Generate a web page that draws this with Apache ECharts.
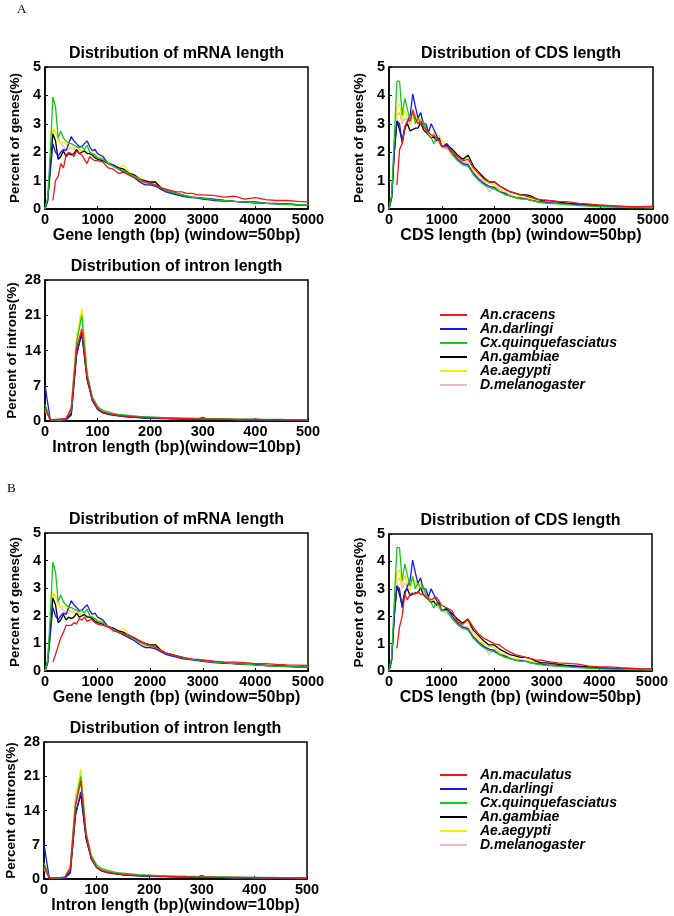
<!DOCTYPE html>
<html>
<head>
<meta charset="utf-8">
<script src="https://cdn.jsdelivr.net/npm/echarts@6/dist/echarts.min.js"></script>
<style>
  html, body { margin: 0; padding: 0; background: #fff; }
  #main { width: 674px; height: 916px; }
</style>
</head>
<body>
<div id="main"></div>
<script>
// bin positions (bp) for the mRNA / CDS panels
var geneX = [0,50,100,150,200,250,300,350,400,450,500,550,600,650,700,750,800,850,900,950,1000,
  1100,1200,1300,1400,1500,1600,1700,1800,1900,2000,2100,2200,2300,2400,2500,2600,2700,2800,2900,3000,
  3200,3400,3600,3800,4000,4200,4400,4600,4800,5000];
var intronX = [];
for (var k = 0; k <= 500; k += 10) intronX.push(k);

// mRNA length (%)
var mrnaDarlingi = [0,0.3,1.3,2.3,2.0,1.85,2.0,2.1,2.05,2.3,2.55,2.4,2.3,2.2,2.2,2.3,2.4,2.2,2.05,2.1,1.95,
  1.85,1.6,1.55,1.4,1.3,1.2,1.1,0.95,0.85,0.85,0.8,0.7,0.6,0.55,0.5,0.45,0.42,0.4,0.38,0.35,
  0.3,0.28,0.27,0.23,0.25,0.2,0.18,0.18,0.15,0.13];
var mrnaQuinque = [0,0.4,2.0,3.95,3.6,2.5,2.75,2.5,2.4,2.3,2.3,2.25,2.2,2.15,2.2,2.1,2.25,2.0,1.95,1.9,1.8,
  1.75,1.6,1.5,1.4,1.35,1.25,1.15,1.05,0.95,0.9,0.85,0.75,0.65,0.6,0.55,0.5,0.45,0.42,0.4,0.38,
  0.33,0.3,0.27,0.25,0.22,0.2,0.18,0.16,0.15,0.14];
var mrnaGambiae = [0,0.3,1.5,2.65,2.4,1.75,1.85,2.05,1.85,1.95,1.9,1.95,2.1,1.95,2.0,2.05,1.95,1.95,1.9,1.8,1.75,
  1.7,1.6,1.55,1.45,1.4,1.25,1.2,1.05,1.0,0.95,0.95,0.75,0.65,0.6,0.55,0.5,0.45,0.42,0.4,0.38,
  0.35,0.3,0.27,0.25,0.22,0.2,0.2,0.17,0.15,0.12];
var mrnaAegypti = [0,0.3,1.6,2.85,2.75,2.4,2.3,2.35,2.3,2.2,2.15,2.1,2.1,2.05,2.05,2.0,2.0,1.95,1.95,1.9,1.85,
  1.8,1.65,1.55,1.45,1.55,1.3,1.2,1.1,1.0,0.95,0.95,0.8,0.65,0.6,0.55,0.5,0.45,0.42,0.4,0.37,
  0.33,0.3,0.27,0.24,0.22,0.2,0.18,0.17,0.15,0.13];
var mrnaMelano = [0,0.3,1.5,2.8,2.7,2.5,2.3,2.2,2.1,2.1,2.15,2.15,2.2,2.1,2.05,2.0,2.0,1.95,1.9,1.85,1.8,
  1.75,1.65,1.5,1.4,1.35,1.25,1.15,1.0,0.9,0.85,0.9,0.7,0.6,0.55,0.55,0.5,0.45,0.42,0.4,0.37,
  0.33,0.3,0.28,0.25,0.23,0.2,0.18,0.17,0.15,0.13];
var mrnaCracens = [null,null,null,0.3,1.0,1.15,1.6,1.45,1.9,2.0,1.95,1.85,2.05,1.95,1.9,1.75,1.6,1.85,1.75,1.7,1.7,
  1.65,1.45,1.4,1.25,1.3,1.2,1.1,1.0,0.95,0.9,0.85,0.75,0.7,0.65,0.6,0.6,0.55,0.55,0.5,0.5,
  0.48,0.42,0.45,0.35,0.4,0.33,0.3,0.3,0.27,0.25];
var mrnaMaculatus = [null,null,null,0.33,0.6,0.9,1.2,1.4,1.65,1.65,1.65,1.75,1.7,1.9,1.85,1.95,1.8,1.85,1.85,1.75,1.7,
  1.65,1.6,1.45,1.4,1.35,1.3,1.2,1.1,1.0,0.95,0.85,0.75,0.65,0.6,0.55,0.5,0.47,0.43,0.42,0.4,
  0.36,0.33,0.32,0.3,0.27,0.27,0.24,0.22,0.21,0.2];

// CDS length (%)
var cdsDarlingi = [0,0.4,2.0,3.1,3.0,2.3,2.8,3.1,3.3,4.05,3.6,3.2,3.4,3.0,3.0,2.7,3.0,2.8,2.6,2.4,2.2,
  2.3,2.0,1.75,1.6,1.55,1.25,1.05,0.9,0.8,0.75,0.6,0.55,0.45,0.4,0.38,0.35,0.3,0.27,0.25,0.22,
  0.2,0.17,0.15,0.12,0.1,0.09,0.08,0.07,0.06,0.05];
var cdsQuinque = [0,0.5,2.5,4.5,4.5,3.3,3.9,3.5,3.1,3.45,3.0,3.2,3.0,3.1,2.8,2.6,2.5,2.3,2.5,2.4,2.2,
  2.2,1.9,1.7,1.55,1.5,1.2,1.0,0.85,0.75,0.7,0.6,0.5,0.45,0.4,0.35,0.35,0.3,0.25,0.22,0.2,
  0.18,0.15,0.12,0.1,0.08,0.07,0.06,0.05,0.05,0.05];
var cdsGambiae = [0,0.4,2.0,3.1,2.8,2.4,2.9,3.0,2.75,2.8,2.85,2.85,3.05,2.8,2.7,2.6,2.5,2.55,2.4,2.5,2.2,
  2.25,2.1,1.9,1.75,1.9,1.5,1.3,1.1,0.95,0.95,0.8,0.7,0.6,0.55,0.5,0.5,0.45,0.35,0.3,0.3,
  0.25,0.2,0.18,0.15,0.12,0.1,0.08,0.07,0.06,0.06];
var cdsAegypti = [0,0.4,2.2,3.6,3.7,3.1,3.5,3.2,2.95,3.3,3.3,3.1,3.2,2.9,2.9,2.6,2.5,2.7,2.6,2.6,2.4,
  2.25,2.05,1.85,1.75,1.8,1.4,1.2,1.0,0.9,0.85,0.7,0.6,0.5,0.45,0.42,0.4,0.35,0.3,0.27,0.25,
  0.22,0.18,0.15,0.13,0.1,0.09,0.08,0.07,0.06,0.05];
var cdsMelano = [0,0.4,2.0,3.3,3.4,3.0,3.2,3.1,3.1,3.3,3.1,3.15,3.2,3.0,2.8,2.7,2.6,2.5,2.4,2.3,2.2,
  2.1,1.95,1.8,1.65,1.6,1.3,1.1,0.95,0.6,0.8,0.65,0.55,0.48,0.42,0.4,0.37,0.32,0.28,0.25,0.22,
  0.2,0.17,0.14,0.12,0.1,0.09,0.08,0.07,0.06,0.05];
var cdsCracens = [null,null,null,0.85,2.1,2.3,2.9,3.1,3.1,3.5,3.2,3.0,3.1,2.9,2.8,2.7,2.6,2.6,2.5,2.4,2.2,
  2.2,2.0,1.85,1.7,1.75,1.45,1.25,1.05,0.95,0.95,0.8,0.7,0.6,0.55,0.5,0.45,0.4,0.35,0.32,0.3,
  0.27,0.25,0.2,0.17,0.14,0.12,0.1,0.08,0.08,0.1];
var cdsMaculatus = [null,null,null,0.83,1.6,2.0,2.8,2.6,2.8,2.85,2.8,2.9,2.8,2.8,2.7,2.65,2.6,2.65,2.7,2.55,2.4,
  2.3,2.2,1.8,1.7,1.9,1.6,1.35,1.2,1.1,1.0,0.95,0.8,0.7,0.6,0.55,0.5,0.45,0.4,0.4,0.35,
  0.3,0.28,0.25,0.18,0.15,0.15,0.12,0.1,0.08,0.08];

// intron length (%), window 10bp
var intDarlingi = [7.1,0.3,0.1,0.1,0.2,1.2,13.0,17.8,8.5,4.0,2.3,1.6,1.3,1.1,1.0,0.85,0.75,0.7,0.65,0.6,0.6,
  0.55,0.5,0.5,0.45,0.45,0.4,0.4,0.38,0.36,0.7,0.34,0.32,0.3,0.3,0.28,0.27,0.26,0.25,0.24,0.3,
  0.22,0.21,0.2,0.2,0.19,0.18,0.18,0.17,0.17,0.16];
var intQuinque = [3.3,0.3,0.2,0.2,0.4,2.3,15.5,21.0,9.5,4.8,2.9,2.1,1.8,1.5,1.3,1.2,1.1,1.0,0.9,0.85,0.8,
  0.75,0.7,0.68,0.65,0.62,0.6,0.57,0.55,0.52,0.5,0.48,0.46,0.45,0.43,0.42,0.4,0.39,0.38,0.37,0.35,
  0.34,0.33,0.32,0.31,0.3,0.29,0.28,0.27,0.26,0.25];
var intGambiae = [3.0,0.3,0.2,0.2,0.3,1.5,13.5,17.3,8.2,4.2,2.4,1.7,1.4,1.2,1.05,0.9,0.8,0.75,0.7,0.65,0.62,
  0.58,0.55,0.52,0.5,0.47,0.45,0.42,0.4,0.38,0.36,0.35,0.33,0.32,0.3,0.29,0.28,0.27,0.26,0.25,0.24,
  0.23,0.22,0.21,0.2,0.2,0.19,0.18,0.18,0.17,0.16];
var intAegypti = [2.5,0.3,0.2,0.2,0.4,2.5,16.5,22.5,9.5,4.5,2.6,1.9,1.55,1.3,1.15,1.0,0.9,0.82,0.75,0.7,0.66,
  0.62,0.58,0.55,0.52,0.5,0.47,0.45,0.43,0.41,0.4,0.38,0.36,0.35,0.34,0.32,0.31,0.3,0.29,0.28,0.27,
  0.26,0.25,0.24,0.23,0.22,0.21,0.2,0.2,0.19,0.18];
var intMelano = [2.0,0.3,0.3,0.3,0.5,3.0,16.8,22.0,9.0,4.3,2.5,1.8,1.5,1.25,1.1,0.95,0.85,0.8,0.72,0.68,0.64,
  0.6,0.56,0.53,0.5,0.48,0.45,0.43,0.41,0.39,0.38,0.36,0.35,0.33,0.32,0.31,0.3,0.29,0.28,0.27,0.26,
  0.25,0.24,0.23,0.22,0.21,0.2,0.2,0.19,0.18,0.17];
var intCracens = [2.5,0.2,0.3,0.4,0.5,2.5,14.5,18.3,8.8,4.3,2.5,1.8,1.5,1.25,1.1,1.0,0.9,0.8,0.75,0.7,0.66,
  0.62,0.58,0.55,0.52,0.5,0.48,0.46,0.44,0.42,0.4,0.39,0.38,0.37,0.36,0.35,0.34,0.33,0.32,0.31,0.35,
  0.3,0.29,0.28,0.27,0.26,0.25,0.24,0.23,0.22,0.21];
var intMaculatus = [2.5,0.2,0.2,0.3,0.4,2.2,15.0,20.0,9.0,4.2,2.4,1.75,1.45,1.2,1.05,0.95,0.85,0.78,0.72,0.68,0.64,
  0.6,0.56,0.53,0.5,0.48,0.46,0.44,0.42,0.4,0.38,0.37,0.36,0.35,0.34,0.33,0.32,0.31,0.3,0.29,0.28,
  0.27,0.26,0.25,0.24,0.23,0.22,0.21,0.2,0.2,0.19];

var colors = {
  red: '#f01818', blue: '#1818e8', green: '#18c818',
  black: '#000000', yellow: '#f0f000', pink: '#f5b5c0'
};
var namesA = ['An.cracens','An.darlingi','Cx.quinquefasciatus','An.gambiae','Ae.aegypti','D.melanogaster'];
var namesB = ['An.maculatus','An.darlingi','Cx.quinquefasciatus','An.gambiae','Ae.aegypti','D.melanogaster'];

var FONT = '"Liberation Sans", Arial, sans-serif';

var panels = [
  { l: 45,  t: 67,  w: 263, h: 142, kind: 'mrna',   title: 'Distribution of mRNA length', xname: 'Gene length (bp) (window=50bp)', red: 'A' },
  { l: 389, t: 67,  w: 264, h: 142, kind: 'cds',    title: 'Distribution of CDS length',  xname: 'CDS length (bp) (window=50bp)',  red: 'A' },
  { l: 45,  t: 280, w: 263, h: 141, kind: 'intron', title: 'Distribution of intron length', xname: 'Intron length (bp)(window=10bp)', red: 'A' },
  { l: 45,  t: 533, w: 263, h: 138, kind: 'mrna',   title: 'Distribution of mRNA length', xname: 'Gene length (bp) (window=50bp)', red: 'B' },
  { l: 389, t: 534, w: 263, h: 137, kind: 'cds',    title: 'Distribution of CDS length',  xname: 'CDS length (bp) (window=50bp)',  red: 'B' },
  { l: 44,  t: 742, w: 263, h: 137, kind: 'intron', title: 'Distribution of intron length', xname: 'Intron length (bp)(window=10bp)', red: 'B' }
];

var dataSets = {
  mrna:   { x: geneX, darl: mrnaDarlingi, quin: mrnaQuinque, gamb: mrnaGambiae, aeg: mrnaAegypti, mel: mrnaMelano, A: mrnaCracens, B: mrnaMaculatus },
  cds:    { x: geneX, darl: cdsDarlingi,  quin: cdsQuinque,  gamb: cdsGambiae,  aeg: cdsAegypti,  mel: cdsMelano,  A: cdsCracens,  B: cdsMaculatus },
  intron: { x: intronX, darl: intDarlingi, quin: intQuinque, gamb: intGambiae, aeg: intAegypti, mel: intMelano, A: intCracens, B: intMaculatus }
};

function pairs(xs, ys) {
  return xs.map(function (x, i) { return [x, ys[i]]; });
}
function plain(v) { return String(v); }

var grids = [], xAxes = [], yAxes = [], series = [], titles = [];

panels.forEach(function (p, i) {
  grids.push({ left: p.l, top: p.t, width: p.w, height: p.h, show: true,
    borderColor: '#000', borderWidth: 1.5, backgroundColor: 'transparent' });
  titles.push({ text: p.title, left: p.l + p.w / 2, top: p.t - 21, textAlign: 'center', padding: 0,
    textStyle: { fontFamily: FONT, fontSize: 16, fontWeight: 'bold', color: '#000' } });
  var intron = p.kind === 'intron';
  xAxes.push({
    gridIndex: i, type: 'value', min: 0, max: intron ? 500 : 5000, interval: intron ? 100 : 1000,
    name: p.xname, nameLocation: 'middle', nameGap: intron ? 17 : 16,
    nameTextStyle: { fontFamily: FONT, fontSize: 16, fontWeight: 'bold', color: '#000' },
    axisLine: { lineStyle: { color: '#000', width: 1.5 } },
    axisTick: { inside: true, length: 3, lineStyle: { color: '#000' } },
    axisLabel: { margin: 3, formatter: plain, fontFamily: FONT, fontSize: 14.5, fontWeight: 'bold', color: '#000' },
    splitLine: { show: false }
  });
  yAxes.push({
    gridIndex: i, type: 'value', min: 0, max: intron ? 28 : 5, interval: intron ? 7 : 1,
    name: intron ? 'Percent of introns(%)' : 'Percent of genes(%)',
    nameLocation: 'middle', nameGap: intron ? 26 : 23,
    nameTextStyle: { fontFamily: FONT, fontSize: 13.5, fontWeight: 'bold', color: '#000' },
    axisLine: { lineStyle: { color: '#000', width: 1.5 } },
    axisTick: { inside: true, length: 3, lineStyle: { color: '#000' } },
    axisLabel: { margin: 4, formatter: plain, fontFamily: FONT, fontSize: 14.5, fontWeight: 'bold', color: '#000' },
    splitLine: { show: false }
  });
  var d = dataSets[p.kind];
  var redName = p.red === 'A' ? 'An.cracens' : 'An.maculatus';
  var list = [
    ['D.melanogaster', colors.pink, d.mel],
    ['Ae.aegypti', colors.yellow, d.aeg],
    ['An.gambiae', colors.black, d.gamb],
    ['An.darlingi', colors.blue, d.darl],
    ['Cx.quinquefasciatus', colors.green, d.quin],
    [redName, colors.red, d[p.red]]
  ];
  list.forEach(function (s) {
    series.push({
      name: s[0], type: 'line', xAxisIndex: i, yAxisIndex: i,
      data: pairs(d.x, s[2]), showSymbol: false, symbol: 'none',
      color: s[1], lineStyle: { color: s[1], width: 1.3 }
    });
  });
});

titles.push({ text: 'A', left: 17, top: 3, padding: 0,
  textStyle: { fontFamily: '"Liberation Serif", "Times New Roman", serif', fontSize: 13, fontWeight: 'normal', color: '#000' } });
titles.push({ text: 'B', left: 7, top: 482, padding: 0,
  textStyle: { fontFamily: '"Liberation Serif", "Times New Roman", serif', fontSize: 13, fontWeight: 'normal', color: '#000' } });

function legendAt(top, names) {
  return {
    data: names, orient: 'vertical', left: 440, top: top, padding: 0,
    itemWidth: 27, itemHeight: 2, itemGap: 0, icon: 'rect', selectedMode: false,
    textStyle: { fontFamily: FONT, fontSize: 14, fontWeight: 'bold', fontStyle: 'italic',
      color: '#000', lineHeight: 14, padding: [0, 0, 0, 8] }
  };
}

var chart = echarts.init(document.getElementById('main'));
chart.setOption({
  animation: false,
  backgroundColor: '#fff',
  title: titles,
  legend: [legendAt(308, namesA), legendAt(768, namesB)],
  grid: grids,
  xAxis: xAxes,
  yAxis: yAxes,
  series: series
});
</script>
</body>
</html>
